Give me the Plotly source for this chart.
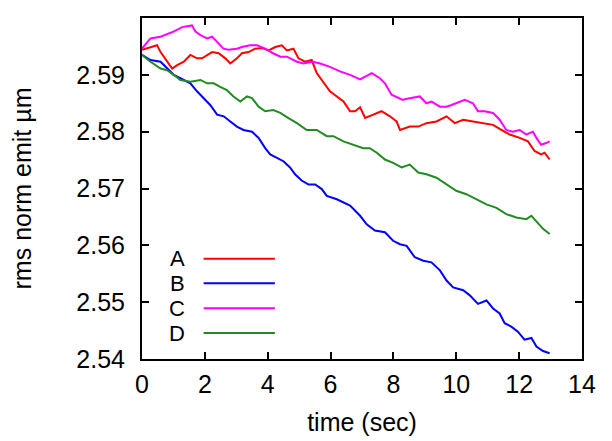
import plotly.graph_objects as go

# Series A (red)
t_A = [0, 0.27, 0.48, 0.59, 0.8, 0.96, 1.12, 1.33, 1.54, 1.75, 1.91, 2.07, 2.23, 2.44, 2.65, 2.81, 3.02, 3.18, 3.39, 3.6,
       3.82, 4.03, 4.24, 4.45, 4.61, 4.82, 4.98, 5.19, 5.4, 5.56, 5.77, 5.98, 6.2, 6.41, 6.62, 6.78, 6.94, 7.1, 7.36, 7.62,
       7.89, 8.1, 8.21, 8.52, 8.79, 9.05, 9.37, 9.69, 9.95, 10.22, 10.53, 10.85, 11.17, 11.38, 11.7, 12.02, 12.28, 12.49,
       12.7, 12.81, 12.97]
y_A = [2.5944, 2.5949, 2.5952, 2.5940, 2.5923, 2.5911, 2.5917, 2.5923, 2.5935, 2.5929, 2.5929, 2.5935, 2.5940, 2.5938,
       2.5929, 2.5920, 2.5929, 2.5938, 2.5940, 2.5946, 2.5947, 2.5943, 2.5949, 2.5952, 2.5943, 2.5946, 2.5929, 2.5923,
       2.5926, 2.5903, 2.5888, 2.5871, 2.5862, 2.5853, 2.5836, 2.5836, 2.5843, 2.5824, 2.5830, 2.5836, 2.5827, 2.5818,
       2.5803, 2.5809, 2.5809, 2.5815, 2.5818, 2.5827, 2.5815, 2.5821, 2.5818, 2.5815, 2.5812, 2.5805, 2.5795, 2.5789,
       2.5783, 2.5766, 2.5760, 2.5763, 2.5751]

# Series B (blue)
t_B = [0, 0.27, 0.59, 0.8, 1.01, 1.22, 1.54, 1.75, 1.96, 2.17, 2.39, 2.6, 2.81, 3.02, 3.23, 3.5, 3.71, 3.92, 4.08, 4.29,
       4.5, 4.71, 4.87, 5.08, 5.3, 5.51, 5.72, 5.88, 6.2, 6.62, 6.94, 7.15, 7.41, 7.73, 7.99, 8.21, 8.42, 8.68, 8.95, 9.21,
       9.48, 9.69, 9.9, 10.22, 10.43, 10.69, 10.96, 11.17, 11.38, 11.54, 11.75, 11.96, 12.17, 12.39, 12.55, 12.76, 12.97]
y_B = [2.5935, 2.5926, 2.5923, 2.5911, 2.5900, 2.5894, 2.5885, 2.5871, 2.5859, 2.5847, 2.5830, 2.5827, 2.5818, 2.5809,
       2.5803, 2.5800, 2.5789, 2.5771, 2.5760, 2.5754, 2.5748, 2.5737, 2.5725, 2.5714, 2.5707, 2.5707, 2.5699, 2.5687,
       2.5681, 2.5670, 2.5652, 2.5637, 2.5626, 2.5623, 2.5608, 2.5602, 2.5599, 2.5579, 2.5573, 2.5570, 2.5556, 2.5538,
       2.5526, 2.5521, 2.5512, 2.5497, 2.5503, 2.5489, 2.5480, 2.5463, 2.5457, 2.5448, 2.5434, 2.5437, 2.5422, 2.5414,
       2.5410]

# Series C (magenta)
t_C = [0, 0.27, 0.59, 1.0, 1.28, 1.59, 1.7, 1.86, 2.07, 2.23, 2.39, 2.59, 2.75, 3.02, 3.18, 3.44, 3.66, 3.92, 4.17, 4.4,
       4.61, 4.93, 5.13, 5.44, 5.67, 5.98, 6.3, 6.62, 6.94, 7.31, 7.57, 7.73, 7.94, 8.3, 8.52, 8.84, 9.05, 9.21, 9.48, 9.69,
       9.85, 10.11, 10.27, 10.53, 10.69, 10.9, 11.17, 11.38, 11.59, 11.8, 12.02, 12.23, 12.44, 12.55, 12.7, 12.86, 12.97]
y_C = [2.5946, 2.5964, 2.5967, 2.5976, 2.5984, 2.5987, 2.5976, 2.5970, 2.5964, 2.5967, 2.5958, 2.5946, 2.5944, 2.5946,
       2.5949, 2.5952, 2.5952, 2.5946, 2.5938, 2.5932, 2.5932, 2.5923, 2.5920, 2.5923, 2.5920, 2.5914, 2.5906, 2.5900,
       2.5892, 2.5903, 2.5894, 2.5885, 2.5865, 2.5856, 2.5859, 2.5862, 2.5850, 2.5853, 2.5844, 2.5844, 2.5847, 2.5853,
       2.5856, 2.5850, 2.5836, 2.5836, 2.5833, 2.5821, 2.5803, 2.5800, 2.5803, 2.5795, 2.5800, 2.5789, 2.5777, 2.5780,
       2.5783]

# Series D (green)
t_D = [0, 0.27, 0.59, 0.8, 1.01, 1.22, 1.54, 1.86, 2.07, 2.28, 2.49, 2.7, 2.91, 3.13, 3.34, 3.5, 3.71, 3.92, 4.18, 4.4,
       4.66, 4.93, 5.24, 5.56, 5.88, 6.09, 6.41, 6.72, 7.04, 7.25, 7.47, 7.73, 7.99, 8.26, 8.52, 8.79, 9.05, 9.37, 9.69,
       10.0, 10.32, 10.64, 10.96, 11.28, 11.59, 11.91, 12.23, 12.39, 12.6, 12.76, 12.97]
y_D = [2.5935, 2.5923, 2.5911, 2.5908, 2.5900, 2.5891, 2.5888, 2.5891, 2.5885, 2.5885, 2.5879, 2.5873, 2.5862, 2.5853,
       2.5862, 2.5859, 2.5844, 2.5836, 2.5838, 2.5833, 2.5824, 2.5815, 2.5803, 2.5803, 2.5792, 2.5792, 2.5783, 2.5777,
       2.5771, 2.5771, 2.5763, 2.5751, 2.5745, 2.5737, 2.5742, 2.5728, 2.5725, 2.5719, 2.5707, 2.5696, 2.5690, 2.5681,
       2.5672, 2.5666, 2.5655, 2.5649, 2.5646, 2.5652, 2.5640, 2.5629, 2.5620]

names = ["A", "B", "C", "D"]
colors = ["#ff0000", "#0000ff", "#ff00ff", "#228b22"]
series = [(t_A, y_A), (t_B, y_B), (t_C, y_C), (t_D, y_D)]

x_ticks = [0, 2, 4, 6, 8, 10, 12, 14]
y_ticks = [2.54, 2.55, 2.56, 2.57, 2.58, 2.59, 2.6]
y_tick_text = ["2.54", "2.55", "2.56", "2.57", "2.58", "2.59", "2.6"]

FONT = "Liberation Sans, Arial, sans-serif"
FS = 25

fig = go.Figure()
for (t, y), n, c in zip(series, names, colors):
    fig.add_trace(go.Scatter(x=t, y=y, mode="lines", name=n,
                             line=dict(color=c, width=2), showlegend=False))

# gnuplot-style key: label then line sample
leg_y = [0.294, 0.222, 0.149, 0.076]
for n, c, ly in zip(names, colors, leg_y):
    fig.add_annotation(xref="paper", yref="paper", x=0.102, y=ly, text=n,
                       showarrow=False, xanchor="right", yanchor="middle",
                       font=dict(family=FONT, size=22, color="black"))
    fig.add_shape(type="line", xref="paper", yref="paper",
                  x0=0.14, x1=0.302, y0=ly, y1=ly,
                  line=dict(color=c, width=2))

fig.update_xaxes(range=[0, 14], tickvals=x_ticks, ticks="inside", ticklen=7, tickwidth=1.5,
                 tickcolor="black", mirror="ticks", showline=True, linecolor="black", linewidth=2,
                 showgrid=False, zeroline=False, ticklabelstandoff=2,
                 tickfont=dict(family=FONT, size=FS, color="black"),
                 title=dict(text="time (sec)", font=dict(family=FONT, size=FS, color="black"), standoff=16))
fig.update_yaxes(range=[2.54, 2.6], tickvals=y_ticks, ticktext=y_tick_text, ticks="inside", ticklen=7,
                 tickwidth=1.5, tickcolor="black", mirror="ticks", showline=True, linecolor="black", linewidth=2,
                 showgrid=False, zeroline=False, ticklabelstandoff=10,
                 tickfont=dict(family=FONT, size=FS, color="black"),
                 title=dict(text="rms norm emit µm", font=dict(family=FONT, size=FS, color="black"), standoff=40))

fig.update_layout(width=612, height=441, plot_bgcolor="white", paper_bgcolor="white",
                  margin=dict(l=134, r=38, t=8, b=90), showlegend=False)

fig.write_html("out.html")
